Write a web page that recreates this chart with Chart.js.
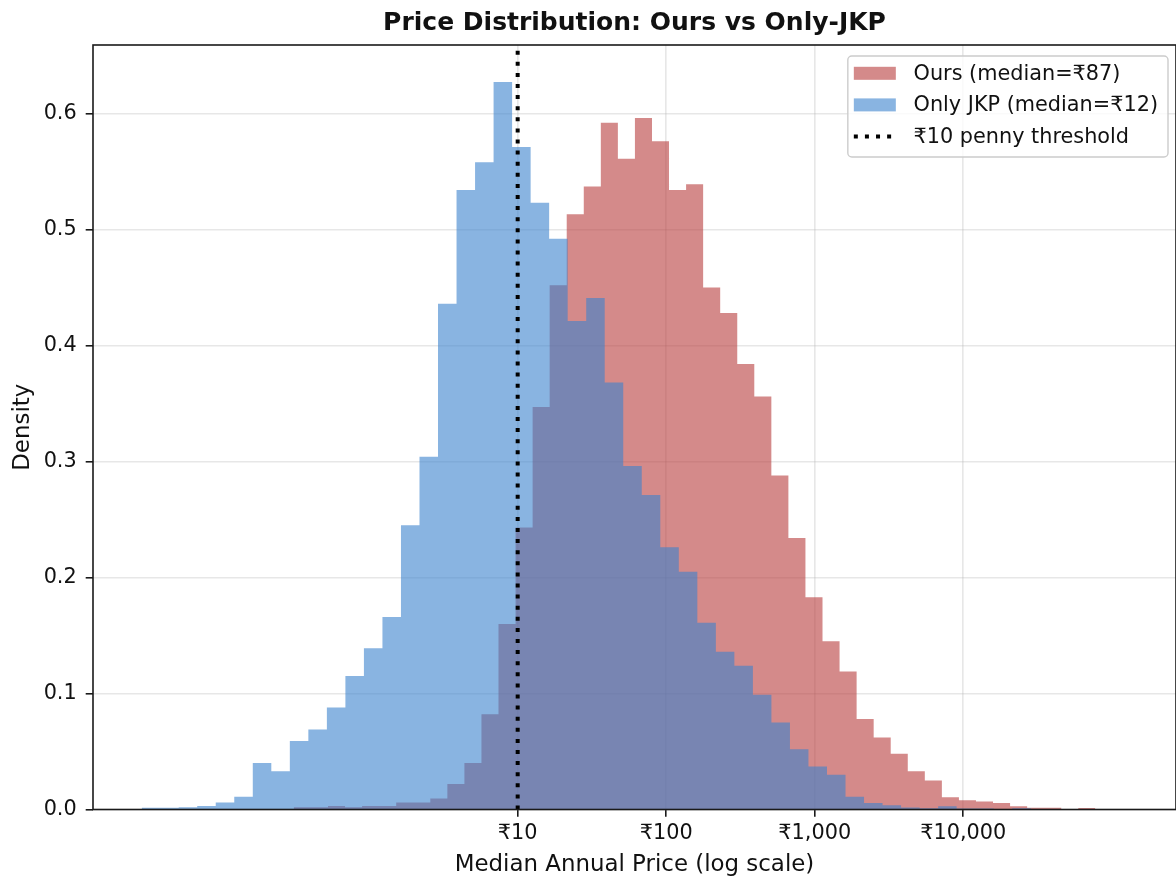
<!DOCTYPE html>
<html>
<head>
<meta charset="utf-8">
<title>Price Distribution: Ours vs Only-JKP</title>
<script src="https://cdn.jsdelivr.net/npm/chart.js@4.4.1/dist/chart.umd.min.js"></script>
<style>
  html, body { margin: 0; padding: 0; background: #fff; overflow: hidden; }
  #wrap { position: relative; width: 1176px; height: 882px; }
</style>
</head>
<body>
<div id="wrap"><canvas id="chart" width="1176" height="882"></canvas></div>
<script>
// Histogram densities.
// Both series use 50 bins of equal width in log10(price).
const oursLabel = 'Ours (median=₹87)';
const oursBinStartLog = -0.851;
const oursBinWidthLog = 0.1148;
const oursDensity = [
  0, 0, 0, 0.002, 0.002, 0.003, 0.002, 0.003, 0.003, 0.006,
  0.006, 0.0095, 0.022, 0.040, 0.082, 0.160, 0.243, 0.347, 0.452, 0.513,
  0.537, 0.592, 0.561, 0.596, 0.576, 0.534, 0.539, 0.450, 0.428, 0.384,
  0.356, 0.288, 0.234, 0.183, 0.145, 0.119, 0.078, 0.062, 0.048, 0.033,
  0.025, 0.0106, 0.008, 0.007, 0.0057, 0.0028, 0.0015, 0.0015, 0, 0.0014
];

const jkpLabel = 'Only JKP (median=₹12)';
const jkpBinStartLog = -1.5315;
const jkpBinWidthLog = 0.1247;
const jkpDensity = [
  0.0015, 0.0015, 0.002, 0.003, 0.006, 0.011, 0.040, 0.033, 0.059, 0.069,
  0.088, 0.115, 0.139, 0.166, 0.245, 0.304, 0.436, 0.534, 0.558, 0.627,
  0.571, 0.523, 0.492, 0.421, 0.441, 0.368, 0.296, 0.271, 0.226, 0.205,
  0.161, 0.136, 0.124, 0.099, 0.075, 0.052, 0.037, 0.030, 0.011, 0.0057,
  0.0037, 0.0017, 0.001, 0.0029, 0.0008, 0.0008, 0, 0.001, 0, 0.0005
];

const pennyThreshold = 10;
const thresholdLabel = '₹10 penny threshold';

const xTickValues = [10, 100, 1000, 10000];
const xTickLabels = ['₹10', '₹100', '₹1,000', '₹10,000'];
const yTickValues = [0, 0.1, 0.2, 0.3, 0.4, 0.5, 0.6];

const xMin = 0.013836;
const xMax = 270400;
const yMin = 0;
const yMax = 0.659;

const FONT = '"DejaVu Sans", "Noto Sans", sans-serif';
const TEXT = '#111';
const GRID = 'rgba(176,176,176,0.3)';

// turn bin densities into points for a stepped, filled line
function histPoints(startLog, widthLog, density) {
  const pts = density.map((d, i) => ({ x: Math.pow(10, startLog + i * widthLog), y: d }));
  pts.push({ x: Math.pow(10, startLog + density.length * widthLog), y: density[density.length - 1] });
  return pts;
}

// axes frame (all four spines)
const frame = {
  id: 'frame',
  afterDraw(chart) {
    const { ctx, chartArea: a } = chart;
    ctx.save();
    ctx.strokeStyle = '#1a1a1a';
    ctx.lineWidth = 1.6;
    ctx.strokeRect(a.left, a.top, a.right - a.left, a.bottom - a.top);
    ctx.restore();
  }
};

// legend boxed inside the upper right corner of the plot
const insideLegend = {
  id: 'insideLegend',
  afterDraw(chart) {
    const { ctx, chartArea: a } = chart;
    const items = chart.data.datasets;
    ctx.save();
    ctx.font = '20.8px ' + FONT;
    const textW = Math.max(...items.map(d => ctx.measureText(d.label).width));
    const handleW = 42, rowH = 31.6;
    const boxW = 6 + handleW + 17.7 + textW + 10;
    const boxH = 101;
    const bx = a.right - 8 - boxW;
    const by = a.top + 11;

    ctx.beginPath();
    ctx.roundRect(bx, by, boxW, boxH, 4);
    ctx.fillStyle = 'rgba(255,255,255,0.8)';
    ctx.fill();
    ctx.strokeStyle = '#cccccc';
    ctx.lineWidth = 1.4;
    ctx.stroke();

    items.forEach((d, i) => {
      const cy = by + 17.3 + i * rowH;
      const hx = bx + 6;
      if (d.borderDash) {
        ctx.save();
        ctx.strokeStyle = d.borderColor;
        ctx.lineWidth = d.borderWidth;
        ctx.setLineDash(d.borderDash);
        ctx.beginPath();
        ctx.moveTo(hx, cy);
        ctx.lineTo(hx + handleW, cy);
        ctx.stroke();
        ctx.restore();
      } else {
        ctx.fillStyle = d.backgroundColor;
        ctx.fillRect(hx, cy - 6.5, handleW, 13);
      }
      ctx.fillStyle = TEXT;
      ctx.textBaseline = 'middle';
      ctx.textAlign = 'left';
      ctx.fillText(d.label, hx + handleW + 17.7, cy + 1);
    });
    ctx.restore();
  }
};

const ctx = document.getElementById('chart').getContext('2d');

new Chart(ctx, {
  type: 'line',
  data: {
    datasets: [
      {
        label: oursLabel,
        data: histPoints(oursBinStartLog, oursBinWidthLog, oursDensity),
        stepped: 'before',
        fill: 'origin',
        backgroundColor: 'rgba(183, 60, 60, 0.6)',
        borderColor: 'rgba(0,0,0,0)',
        borderWidth: 1,
        pointRadius: 0,
        order: 2
      },
      {
        label: jkpLabel,
        data: histPoints(jkpBinStartLog, jkpBinWidthLog, jkpDensity),
        stepped: 'before',
        fill: 'origin',
        backgroundColor: 'rgba(58, 130, 205, 0.6)',
        borderColor: 'rgba(0,0,0,0)',
        borderWidth: 1,
        pointRadius: 0,
        order: 1
      },
      {
        label: thresholdLabel,
        data: [{ x: pennyThreshold, y: yMin }, { x: pennyThreshold, y: yMax }],
        borderColor: '#000',
        borderWidth: 4,
        borderDash: [4, 7.1],
        borderCapStyle: 'butt',
        pointRadius: 0,
        fill: false,
        order: 0
      }
    ]
  },
  options: {
    responsive: false,
    animation: false,
    devicePixelRatio: 1,
    layout: { padding: 0 },
    plugins: {
      legend: { display: false },
      tooltip: { enabled: false },
      title: {
        display: true,
        text: 'Price Distribution: Ours vs Only-JKP',
        fullSize: false,
        color: TEXT,
        font: { family: FONT, size: 25, weight: 'bold', lineHeight: 1.2 },
        padding: { top: 8.5, bottom: 6.5 }
      }
    },
    scales: {
      x: {
        type: 'logarithmic',
        min: xMin,
        max: xMax,
        z: 1,
        afterBuildTicks: s => { s.ticks = xTickValues.map(v => ({ value: v })); },
        afterFit: s => { s.height = 72.5; },
        ticks: {
          autoSkip: false,
          maxRotation: 0,
          padding: 4,
          color: TEXT,
          font: { family: FONT, size: 20.8 },
          callback: v => xTickLabels[xTickValues.indexOf(v)]
        },
        grid: {
          color: GRID,
          lineWidth: 1.6,
          tickColor: '#1a1a1a',
          tickLength: 7.3,
          tickWidth: 1.6
        },
        border: { display: false },
        title: {
          display: true,
          text: 'Median Annual Price (log scale)',
          color: TEXT,
          font: { family: FONT, size: 22.9, lineHeight: 1.2 },
          padding: { top: 0, bottom: 3.3 }
        }
      },
      y: {
        type: 'linear',
        min: yMin,
        max: yMax,
        z: 1,
        afterBuildTicks: s => { s.ticks = yTickValues.map(v => ({ value: v })); },
        afterFit: s => { s.width = 93; },
        ticks: {
          padding: 9,
          color: TEXT,
          font: { family: FONT, size: 20.8 },
          callback: v => v.toFixed(1)
        },
        grid: {
          color: GRID,
          lineWidth: 1.6,
          tickColor: '#1a1a1a',
          tickLength: 7.3,
          tickWidth: 1.6
        },
        border: { display: false },
        title: {
          display: true,
          text: 'Density',
          color: TEXT,
          font: { family: FONT, size: 22.9, lineHeight: 1.2 },
          padding: { top: 9.3, bottom: 0 }
        }
      }
    }
  },
  plugins: [frame, insideLegend]
});
</script>
</body>
</html>
